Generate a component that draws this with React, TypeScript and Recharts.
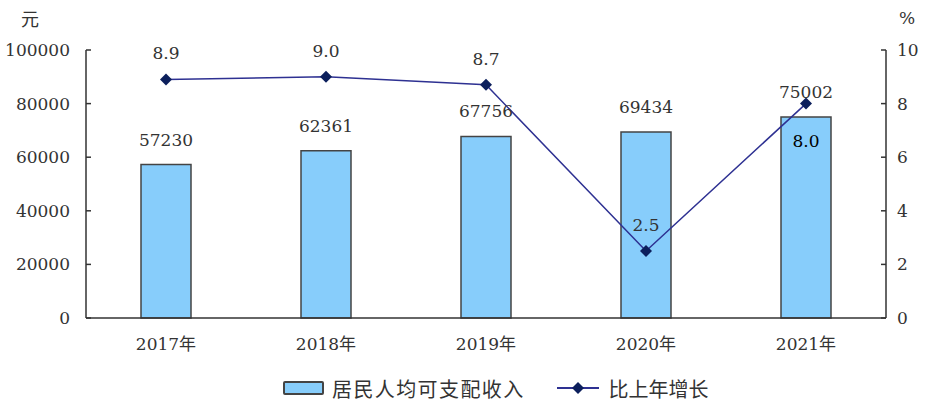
import { ComposedChart, Bar, Line, XAxis, YAxis, LabelList, Legend } from "recharts";

const years = ["2017年", "2018年", "2019年", "2020年", "2021年"];
const income = [57230, 62361, 67756, 69434, 75002];
const growth = [8.9, 9.0, 8.7, 2.5, 8.0];
const leftTicks = [0, 20000, 40000, 60000, 80000, 100000];
const rightTicks = [0, 2, 4, 6, 8, 10];

const data = years.map((year, i) => ({ year, income: income[i], growth: growth[i] }));

const NUM_FONT = "'DejaVu Serif', 'Noto Sans CJK SC', serif";
const CJK_FONT = "'Noto Sans CJK SC', sans-serif";
const BAR_FILL = "#87cdfb";
const LINE_COLOR = "#2e3192";
const DOT_COLOR = "#0c1f5c";

const Diamond = (props: any) => {
  const { cx, cy } = props;
  if (cx == null || cy == null) return null;
  const r = 6;
  return (
    <path
      d={`M${cx},${cy - r}L${cx + r},${cy}L${cx},${cy + r}L${cx - r},${cy}Z`}
      fill={DOT_COLOR}
    />
  );
};

const GrowthLabel = (props: any) => {
  const { x, y, value, index } = props;
  const below = index === 4;
  return (
    <text
      x={x}
      y={below ? y + 37 : y - 26}
      textAnchor="middle"
      dominantBaseline="central"
      fontFamily={NUM_FONT}
      fontSize={17}
      fill={below ? "#000" : "#333"}
    >
      {Number(value).toFixed(1)}
    </text>
  );
};

const IncomeLabel = (props: any) => {
  const { x, y, width, value } = props;
  return (
    <text
      x={x + width / 2}
      y={y - 25}
      textAnchor="middle"
      dominantBaseline="central"
      fontFamily={NUM_FONT}
      fontSize={17}
      fill="#333"
    >
      {value}
    </text>
  );
};

const LegendContent = () => (
  <div
    style={{
      height: 38,
      display: "flex",
      alignItems: "center",
      fontFamily: CJK_FONT,
      fontSize: 20,
      color: "#333",
      paddingLeft: 283,
    }}
  >
    <svg width={41} height={14} style={{ marginRight: 8 }}>
      <rect x={1} y={1} width={39} height={12} fill={BAR_FILL} stroke="#444" strokeWidth={2} rx={1} />
    </svg>
    <span style={{ letterSpacing: 1.4 }}>居民人均可支配收入</span>
    <svg width={42} height={14} style={{ marginLeft: 32, marginRight: 10 }}>
      <line x1={0} y1={7} x2={42} y2={7} stroke={LINE_COLOR} strokeWidth={2} />
      <path d="M21,1L27,7L21,13L15,7Z" fill={DOT_COLOR} />
    </svg>
    <span>比上年增长</span>
  </div>
);

export default function App() {
  return (
    <div style={{ position: "absolute", left: 0, top: 0, background: "#fff" }}>
      <ComposedChart
        width={932}
        height={407}
        data={data}
        margin={{ top: 50, right: 0, bottom: 0, left: 0 }}
      >
        <XAxis
          dataKey="year"
          height={51}
          tickLine={false}
          axisLine={{ stroke: "#333", strokeWidth: 1.5 }}
          tickMargin={14}
          tick={{ fontFamily: NUM_FONT, fontSize: 17, fill: "#333" }}
        />
        <YAxis
          yAxisId="left"
          width={86}
          domain={[0, 100000]}
          ticks={leftTicks}
          interval={0}
          tickSize={-5}
          tickMargin={21}
          axisLine={{ stroke: "#333", strokeWidth: 1.5 }}
          tickLine={{ stroke: "#333", strokeWidth: 1.5 }}
          tick={{ fontFamily: NUM_FONT, fontSize: 17, fill: "#333" }}
          label={{
            content: (p: any) => (
              <text
                x={30}
                y={(p.viewBox?.y ?? 50) - 32}
                textAnchor="middle"
                dominantBaseline="central"
                fontFamily={CJK_FONT}
                fontSize={18}
                fill="#333"
              >
                元
              </text>
            ),
          }}
        />
        <YAxis
          yAxisId="right"
          orientation="right"
          width={46}
          domain={[0, 10]}
          ticks={rightTicks}
          interval={0}
          tickSize={-5}
          tickMargin={16}
          axisLine={{ stroke: "#333", strokeWidth: 1.5 }}
          tickLine={{ stroke: "#333", strokeWidth: 1.5 }}
          tick={{ fontFamily: NUM_FONT, fontSize: 17, fill: "#333" }}
          label={{
            content: (p: any) => (
              <text
                x={907}
                y={(p.viewBox?.y ?? 50) - 32}
                textAnchor="middle"
                dominantBaseline="central"
                fontFamily={NUM_FONT}
                fontSize={17}
                fill="#333"
              >
                %
              </text>
            ),
          }}
        />
        <Bar
          yAxisId="left"
          dataKey="income"
          barSize={50}
          fill={BAR_FILL}
          stroke="#444"
          strokeWidth={1.5}
          isAnimationActive={false}
        >
          <LabelList dataKey="income" content={IncomeLabel} />
        </Bar>
        <Line
          yAxisId="right"
          dataKey="growth"
          stroke={LINE_COLOR}
          strokeWidth={1.5}
          dot={<Diamond />}
          activeDot={false}
          isAnimationActive={false}
        >
          <LabelList dataKey="growth" content={GrowthLabel} />
        </Line>
        <Legend verticalAlign="bottom" content={LegendContent} />
      </ComposedChart>
    </div>
  );
}
